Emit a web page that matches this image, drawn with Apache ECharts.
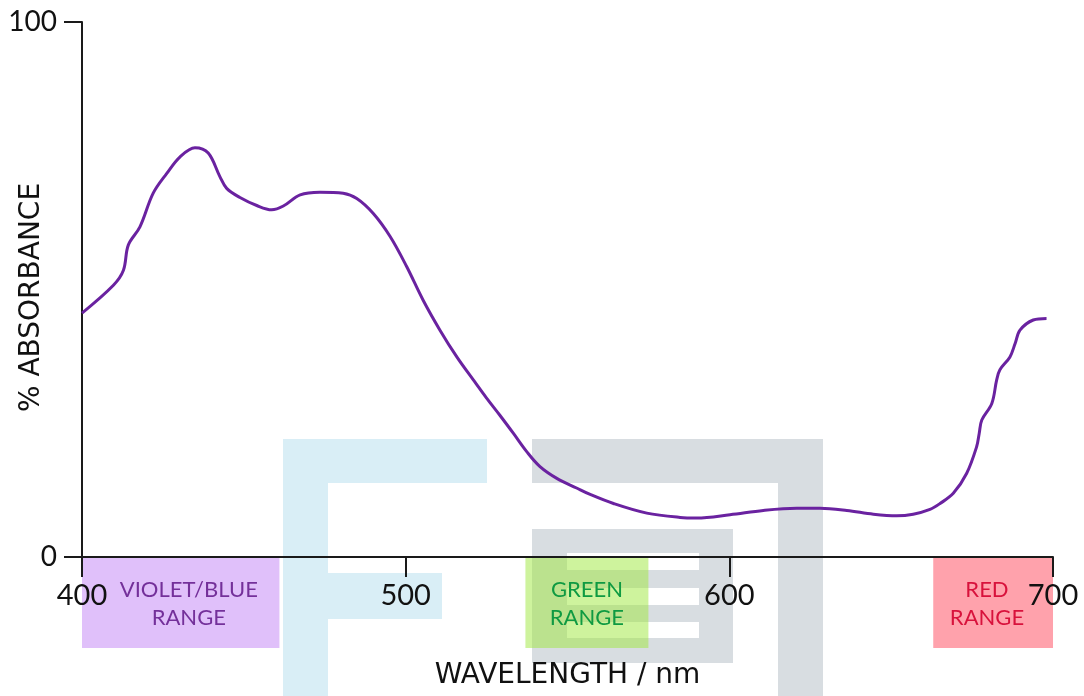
<!DOCTYPE html>
<html>
<head>
<meta charset="utf-8">
<title>Absorbance spectrum</title>
<script src="https://cdn.jsdelivr.net/npm/echarts@6/dist/echarts.min.js"></script>
<style>
  html, body { margin: 0; padding: 0; background: #ffffff; }
  #chart { width: 1084px; height: 696px; }
</style>
</head>
<body>
<div id="chart"></div>
<script>
// Wavelength (nm) and % absorbance along the spectrum
const wavelengths = [400, 409.7, 412.8, 414.3, 417.9, 422.0, 426.2, 430.3, 434.9, 439.0,
  442.6, 444.7, 448.8, 454.0, 458.6, 462.2, 467.4, 473.5, 480.7, 484.9,
  490.0, 495.2, 500.3, 505.4, 510.6, 515.8, 520.9, 525.0, 529.1, 533.3,
  537.4, 541.5, 546.7, 552.8, 557.0, 564.2, 574.5, 584.8, 589.9, 600.2,
  610.5, 620.8, 628.0, 636.3, 644.5, 651.7, 656.8, 662.0, 665.1, 669.2,
  673.3, 676.4, 677.2, 678.0, 681.1, 682.6, 683.6, 686.7, 688.3, 689.8,
  693.9, 698.0];
const absorbance = [45.6, 50.8, 53.6, 58.3, 61.7, 68.0, 71.7, 74.8, 76.5, 75.5,
  71.1, 68.9, 67.2, 65.7, 64.9, 65.6, 67.7, 68.2, 68.0, 67.0,
  64.2, 59.9, 54.3, 48.0, 42.4, 37.4, 33.1, 29.7, 26.5, 23.1,
  19.7, 16.9, 14.7, 12.9, 11.7, 10.0, 8.2, 7.4, 7.3, 7.9,
  8.7, 9.1, 9.1, 8.7, 8.0, 7.7, 8.0, 8.9, 10.0, 11.9,
  15.6, 20.6, 23.1, 25.6, 28.7, 33.1, 35.0, 37.4, 39.9, 42.4,
  44.3, 44.6];

// Axis ticks
const xTicks = [400, 500, 600, 700];
const yTicks = [0, 100];

// Colour bands under the wavelength axis: [from nm, to nm]
const bandNames = ['VIOLET/BLUE\nRANGE', 'GREEN\nRANGE', 'RED\nRANGE'];
const bandRanges = [[400, 461], [537, 575], [663, 700]];
const bandLabelAt = [433, 556, 679.6];

const bandFill = ['rgb(224,192,250)', 'rgba(158,232,60,0.5)', 'rgb(255,162,172)'];
const bandText = ['#74309a', '#0f9a42', '#d8123c'];

const FONT = 'Lato, "Noto Sans", sans-serif';
const TITLE_FONT = '"DejaVu Sans", Lato, sans-serif';

const chart = echarts.init(document.getElementById('chart'), null, { renderer: 'canvas' });

chart.setOption({
  animation: false,
  backgroundColor: '#ffffff',
  grid: { left: 82, right: 31, top: 22, bottom: 139, containLabel: false, outerBoundsMode: 'none' },
  xAxis: {
    type: 'value',
    min: xTicks[0],
    max: xTicks[xTicks.length - 1],
    interval: 100,
    name: 'WAVELENGTH / nm',
    nameLocation: 'middle',
    nameGap: 105,
    nameMoveOverlap: false,
    nameTextStyle: { fontFamily: TITLE_FONT, fontSize: 28, color: '#111' },
    axisLine: { show: true, lineStyle: { color: '#1a1a1a', width: 2 } },
    axisTick: { show: true, inside: false, length: 20, lineStyle: { color: '#1a1a1a', width: 2 } },
    axisLabel: { fontFamily: FONT, fontSize: 29, color: '#111', margin: 24 },
    splitLine: { show: false }
  },
  yAxis: {
    type: 'value',
    min: yTicks[0],
    max: yTicks[yTicks.length - 1],
    interval: 100,
    name: '% ABSORBANCE',
    nameLocation: 'middle',
    nameGap: 36,
    nameMoveOverlap: false,
    nameTextStyle: { fontFamily: TITLE_FONT, fontSize: 28, color: '#111', padding: [0, 16, 0, 0] },
    axisLine: { show: true, lineStyle: { color: '#1a1a1a', width: 2 } },
    axisTick: { show: true, inside: false, length: 18, lineStyle: { color: '#1a1a1a', width: 2 } },
    axisLabel: { fontFamily: FONT, fontSize: 28, color: '#111', margin: 25 },
    splitLine: { show: false }
  },
  series: [{
    type: 'line',
    data: wavelengths.map((w, i) => [w, absorbance[i]]),
    smooth: 0.35,
    showSymbol: false,
    clip: false,
    z: 3,
    lineStyle: { color: '#6a22a0', width: 3 }
  }]
});

// Faint logo shapes in the lower middle, then the colour bands placed from the axis scale
function buildGraphics() {
  const wmBlue = '#d9eef6';
  const wmGrey = '#d8dde1';
  const wm = [
    [283, 439, 204, 44, wmBlue],
    [283, 439, 45, 257, wmBlue],
    [328, 573, 114, 46, wmBlue],
    [532, 439, 291, 44, wmGrey],
    [778, 439, 45, 257, wmGrey],
    [532, 529, 201, 134, wmGrey],
    [567, 553, 132, 17, '#ffffff'],
    [567, 588, 132, 17, '#ffffff'],
    [567, 622, 132, 16, '#ffffff']
  ].map(r => ({
    type: 'rect', z: -20, silent: true,
    shape: { x: r[0], y: r[1], width: r[2], height: r[3] },
    style: { fill: r[4] }
  }));

  const axisY = chart.convertToPixel({ yAxisIndex: 0 }, 0);
  const bandHeight = 90;
  const bands = [];
  bandRanges.forEach((rng, i) => {
    const x0 = chart.convertToPixel({ xAxisIndex: 0 }, rng[0]);
    const x1 = chart.convertToPixel({ xAxisIndex: 0 }, rng[1]);
    bands.push({
      type: 'rect', z: -5, silent: true,
      shape: { x: x0, y: axisY + 1, width: x1 - x0, height: bandHeight },
      style: { fill: bandFill[i] }
    });
    const cx = chart.convertToPixel({ xAxisIndex: 0 }, bandLabelAt[i]);
    bands.push({
      type: 'text', z: -4, silent: true,
      x: cx, y: axisY + 47,
      style: {
        text: bandNames[i],
        fill: bandText[i],
        font: '22px ' + FONT,
        align: 'center',
        verticalAlign: 'middle',
        lineHeight: 28
      }
    });
  });
  return wm.concat(bands);
}

chart.setOption({ graphic: { elements: buildGraphics() } });
</script>
</body>
</html>
